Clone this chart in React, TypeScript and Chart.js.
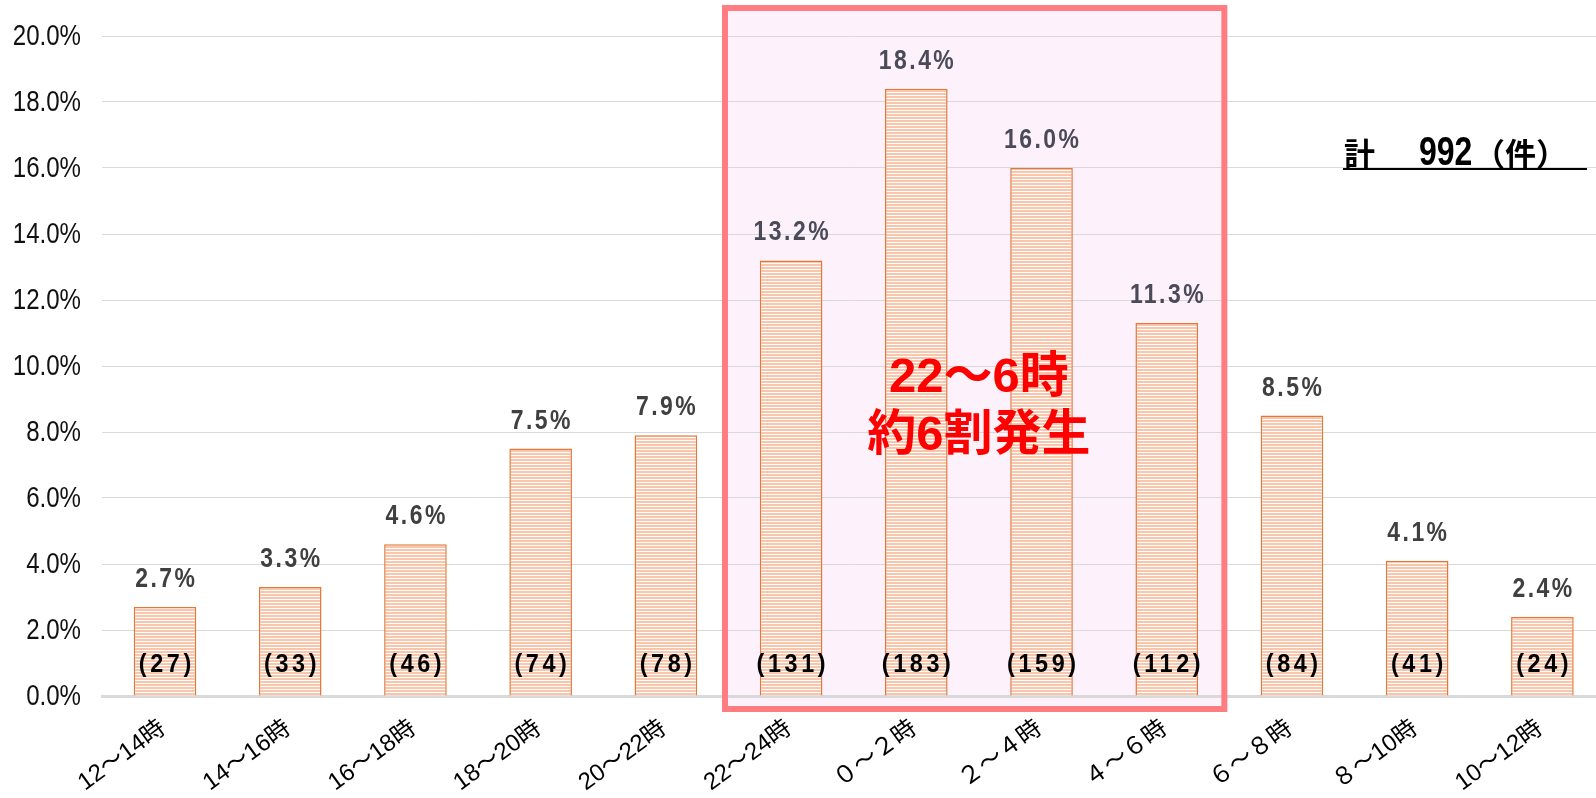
import React, { useEffect, useRef } from "react";
import { Chart, registerables } from "chart.js";

Chart.register(...registerables);

const categories = [
  "12～14時", "14～16時", "16～18時", "18～20時", "20～22時", "22～24時",
  "０～２時", "２～４時", "４～６時", "６～８時", "８～10時", "10～12時",
];
const percentages = [2.7, 3.3, 4.6, 7.5, 7.9, 13.2, 18.4, 16.0, 11.3, 8.5, 4.1, 2.4];
const counts = [27, 33, 46, 74, 78, 131, 183, 159, 112, 84, 41, 24];
const totalCount = 992;
const yTickValues = [0, 2, 4, 6, 8, 10, 12, 14, 16, 18, 20];
const highlightFrom = 5;
const highlightTo = 8;
const highlightLines = ["22～6時", "約6割発生"];

const SANS = "'Liberation Sans', 'Noto Sans CJK JP', sans-serif";
const CJK = "'Noto Sans CJK JP', sans-serif";

function makeStripePattern(): CanvasPattern | string {
  const c = document.createElement("canvas");
  c.width = 4;
  c.height = 3;
  const g = c.getContext("2d");
  if (!g) return "#F9C8B0";
  g.fillStyle = "#ffffff";
  g.fillRect(0, 0, 4, 3);
  g.fillStyle = "#F9C6AC";
  g.fillRect(0, 0, 4, 2);
  return g.createPattern(c, "repeat") || "#F9C8B0";
}

function drawScaled(
  ctx: CanvasRenderingContext2D,
  text: string,
  x: number,
  y: number,
  sx: number,
  align: CanvasTextAlign,
  spacing: number
) {
  ctx.save();
  ctx.translate(x, y);
  ctx.scale(sx, 1);
  (ctx as any).letterSpacing = spacing + "px";
  ctx.textAlign = align;
  let dx = 0;
  if (align === "center") dx = spacing / 2;
  if (align === "right") dx = spacing;
  ctx.fillText(text, dx, 0);
  ctx.restore();
}

function boxBounds(chart: any) {
  const xs = chart.scales.x;
  const ys = chart.scales.y;
  return {
    left: xs.getPixelForValue(highlightFrom - 0.5) - 6.5,
    right: xs.getPixelForValue(highlightTo + 0.5) - 2,
    top: chart.chartArea.top - 31,
    bottom: ys.getPixelForValue(0) + 16,
  };
}

const highlightPlugin = {
  id: "highlightBox",
  beforeDraw(chart: any) {
    const { ctx } = chart;
    const b = boxBounds(chart);
    ctx.save();
    ctx.fillStyle = "#FDF1FB";
    ctx.fillRect(b.left, b.top, b.right - b.left, b.bottom - b.top);
    ctx.restore();
  },
  afterDraw(chart: any) {
    const { ctx } = chart;
    const xs = chart.scales.x;
    const ys = chart.scales.y;
    const b = boxBounds(chart);
    const zero = ys.getPixelForValue(0);
    ctx.save();

    // y tick labels
    ctx.fillStyle = "#111111";
    ctx.textBaseline = "middle";
    ctx.font = "29px " + SANS;
    yTickValues.forEach((v) => {
      drawScaled(ctx, v.toFixed(1) + "%", 81, ys.getPixelForValue(v) + 1, 0.83, "right", 0);
    });

    // x tick labels (rotated)
    ctx.fillStyle = "#000000";
    ctx.font = "24px " + SANS;
    ctx.textBaseline = "middle";
    ctx.textAlign = "right";
    categories.forEach((lab, i) => {
      const x = xs.getPixelForValue(i);
      ctx.save();
      ctx.translate(x - 2, zero + 30);
      ctx.rotate((-36 * Math.PI) / 180);
      ctx.fillText(lab, 0, 0);
      ctx.restore();
    });

    // highlight border
    ctx.strokeStyle = "#FF7C80";
    ctx.lineWidth = 6;
    ctx.strokeRect(b.left + 3, b.top + 3, b.right - b.left - 6, b.bottom - b.top - 6);

    // center annotation
    const cx = xs.getPixelForValue((highlightFrom + highlightTo) / 2);
    ctx.fillStyle = "#FF0000";
    ctx.textAlign = "center";
    ctx.textBaseline = "middle";
    ctx.font = "bold 49px " + SANS;
    ctx.fillText(highlightLines[0], cx, ys.getPixelForValue(9.62));
    ctx.fillText(highlightLines[1], cx, ys.getPixelForValue(7.86));

    // total
    ctx.fillStyle = "#000000";
    ctx.textAlign = "left";
    ctx.textBaseline = "alphabetic";
    ctx.font = "bold 31px " + CJK;
    ctx.fillText("計", 1344, 165);
    ctx.font = "bold 40px " + SANS;
    drawScaled(ctx, String(totalCount), 1419, 165, 0.8, "left", 0);
    ctx.font = "bold 31px " + CJK;
    ctx.fillText("（件）", 1474, 165);
    ctx.fillRect(1343, 168, 244, 2);
    ctx.restore();
  },
};

const labelPlugin = {
  id: "barLabels",
  afterDatasetsDraw(chart: any) {
    const { ctx } = chart;
    const meta = chart.getDatasetMeta(0);
    const zero = chart.scales.y.getPixelForValue(0);
    ctx.save();
    ctx.textBaseline = "alphabetic";
    meta.data.forEach((bar: any, i: number) => {
      ctx.fillStyle = i >= highlightFrom && i <= highlightTo ? "#4A4A58" : "#404040";
      ctx.font = "bold 28px " + SANS;
      drawScaled(ctx, percentages[i].toFixed(1) + "%", bar.x, bar.y - 20, 0.82, "center", 3);
      ctx.fillStyle = "#000000";
      ctx.font = "bold 26px " + SANS;
      drawScaled(ctx, "(" + counts[i] + ")", bar.x, zero - 24, 0.9, "center", 4);
    });
    ctx.restore();
  },
};

export default function App() {
  const ref = useRef<HTMLCanvasElement | null>(null);

  useEffect(() => {
    if (!ref.current) return;
    const pattern = makeStripePattern();
    const chart = new Chart(ref.current, {
      type: "bar",
      data: {
        labels: categories,
        datasets: [
          {
            data: percentages,
            backgroundColor: pattern as any,
            borderColor: "#DF7A3C",
            borderWidth: 1.5,
            categoryPercentage: 1,
            barPercentage: 0.5,
          },
        ],
      },
      options: {
        responsive: false,
        animation: false,
        layout: { padding: { top: 36, right: 1, bottom: 0, left: 0 } },
        plugins: {
          legend: { display: false },
          tooltip: { enabled: false },
        },
        scales: {
          x: {
            grid: { display: false, drawTicks: false },
            border: { display: true, color: "#D9D9D9", width: 3 },
            ticks: { display: false, autoSkip: false },
            afterFit(scale: any) {
              scale.height = 102;
            },
          },
          y: {
            min: 0,
            max: 20,
            ticks: {
              display: false,
              stepSize: 2,
            },
            grid: { color: "#D9D9D9", lineWidth: 1, drawTicks: false },
            border: { display: false },
            afterFit(scale: any) {
              scale.width = 102.4;
            },
          },
        },
      },
      plugins: [highlightPlugin, labelPlugin],
    });
    return () => chart.destroy();
  }, []);

  return (
    <div style={{ position: "absolute", left: 0, top: 0, width: 1596, height: 798, overflow: "hidden", background: "#ffffff" }}>
      <canvas ref={ref} width={1606} height={798} style={{ display: "block" }} />
    </div>
  );
}
